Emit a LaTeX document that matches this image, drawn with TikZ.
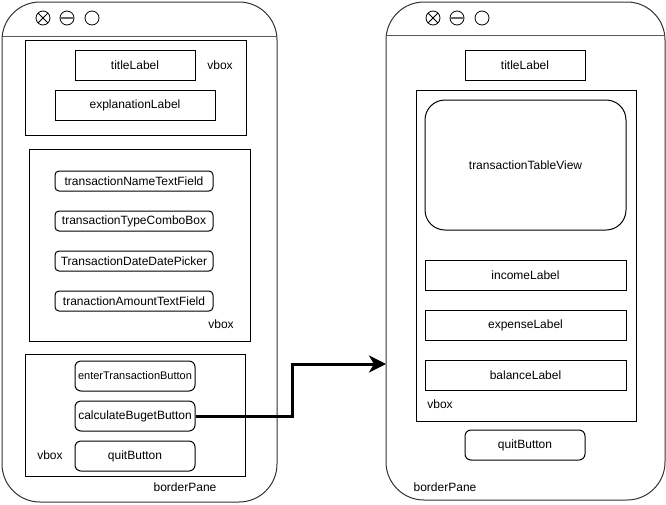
\documentclass[tikz,border=0pt]{standalone}
\usepackage{fontspec}
\setmainfont{Liberation Sans}
\usetikzlibrary{arrows.meta}
\begin{document}
\begin{tikzpicture}[x=1pt,y=-1pt,
  every node/.style={font=\fontsize{12}{14}\selectfont},
  winframe/.style={draw=black!80, line width=1pt, rounded corners=38pt},
  barline/.style={draw=black!65, line width=1pt},
  icon/.style={draw=black, line width=0.8pt},
  vboxframe/.style={draw=black, line width=1pt},
  lbl/.style={draw=black, line width=1pt, inner sep=0pt, minimum height=30pt},
  fieldbox/.style={draw=black, line width=1pt, rounded corners=4pt, inner sep=0pt, minimum width=158pt, minimum height=20pt},
  btn/.style={draw=black, line width=1pt, rounded corners=6pt, inner sep=0pt, minimum width=120pt, minimum height=30pt},
  plain/.style={inner sep=0pt},
  flow/.style={line width=3pt, -{Stealth[length=17pt,width=17pt,inset=5pt]}}
]
\useasboundingbox (0,0) rectangle (666,504);

% ---------- left window ----------
\draw[winframe] (2,2) rectangle (277,502);
\draw[barline] (2,36) -- (277,36);
\draw[icon] (43,18) circle (7);
\draw[icon] (43,18) ++(-4.95,-4.95) -- ++(9.9,9.9);
\draw[icon] (43,18) ++(-4.95,4.95) -- ++(9.9,-9.9);
\draw[icon] (67,18) circle (7);
\draw[draw=black!60, line width=1.6pt] (60,18) -- (74,18);
\draw[icon] (92,18) circle (7);

% vbox 1
\draw[vboxframe] (25,40) rectangle (246,135);
\node[plain] (vb1) at (220,65) {vbox};
\node[lbl, minimum width=120pt] (title1) at (135,65) {titleLabel};
\node[lbl, minimum width=160pt] (expl) at (135,105) {explanationLabel};

% vbox 2
\draw[vboxframe] (29,149) rectangle (250,341);
\node[plain] (vb2) at (221,324) {vbox};
\node[fieldbox] (tf1) at (134,181) {transactionNameTextField};
\node[fieldbox] (tf2) at (134,221) {transactionTypeComboBox};
\node[fieldbox] (tf3) at (134,261) {TransactionDateDatePicker};
\node[fieldbox] (tf4) at (134,301) {tranactionAmountTextField};

% vbox 3
\draw[vboxframe] (25,354) rectangle (245,476);
\node[plain] (vb3) at (50,455) {vbox};
\node[btn, font=\fontsize{11}{13}\selectfont] (enter) at (135,376) {enterTransactionButton};
\node[btn] (calc) at (135,416) {calculateBugetButton};
\node[btn] (quit1) at (135,456) {quitButton};

\node[plain] (bp1) at (185,487) {borderPane};

% ---------- right window ----------
\draw[winframe] (386,2) rectangle (665,500);
\draw[barline] (386,35) -- (665,35);
\draw[icon] (433,18) circle (7);
\draw[icon] (433,18) ++(-4.95,-4.95) -- ++(9.9,9.9);
\draw[icon] (433,18) ++(-4.95,4.95) -- ++(9.9,-9.9);
\draw[icon] (457,18) circle (7);
\draw[draw=black!60, line width=1.6pt] (450,18) -- (464,18);
\draw[icon] (482,18) circle (7);

\node[lbl, minimum width=120pt] (title2) at (525,65) {titleLabel};

\draw[vboxframe] (416,90) rectangle (636,421);
\node[plain] (vb4) at (440,404) {vbox};
\node[draw=black, line width=1pt, rounded corners=20pt, minimum width=201pt, minimum height=130pt, inner sep=0pt] (table) at (525.5,165) {transactionTableView};
\node[lbl, minimum width=201pt] (income) at (525.5,275) {incomeLabel};
\node[lbl, minimum width=201pt] (expense) at (525.5,325) {expenseLabel};
\node[lbl, minimum width=201pt] (balance) at (525.5,375) {balanceLabel};
\node[btn] (quit2) at (525,445) {quitButton};

\node[plain] (bp2) at (445,487) {borderPane};

% ---------- connector ----------
\coordinate (w2in) at (386,364);
\draw[flow] (calc.east) -- ++(97,0) |- (w2in);
\end{tikzpicture}
\end{document}
